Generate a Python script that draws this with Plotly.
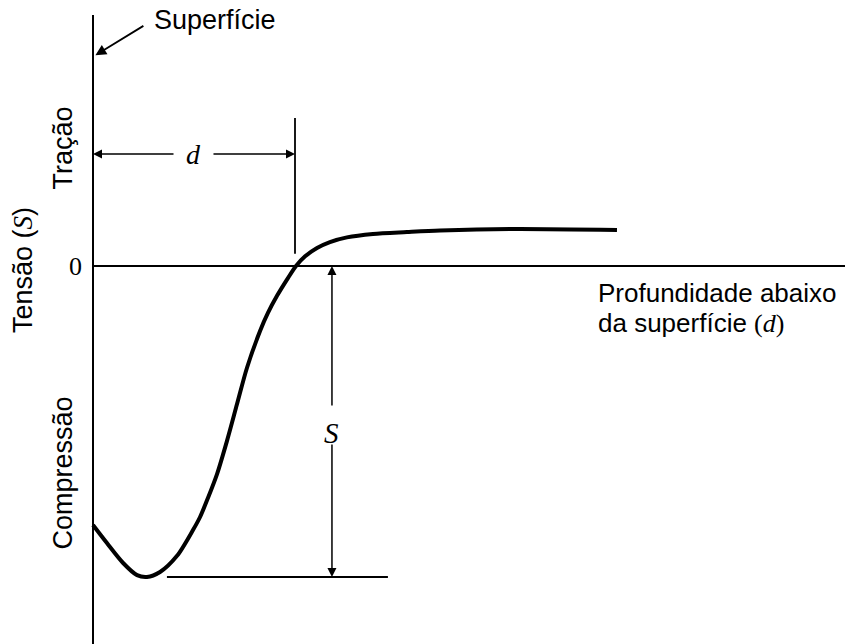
import plotly.graph_objects as go

# ---- data (depth in units of d, stress in units of |S|) ----
depth = [0.0, 0.069, 0.149, 0.218, 0.267, 0.332, 0.416, 0.495, 0.530, 0.569, 0.614, 0.663,
         0.713, 0.762, 0.827, 0.866, 0.911, 0.965, 1.005, 1.050, 1.109, 1.173, 1.257,
         1.386, 1.554, 1.718, 2.079, 2.594]
stress = [-0.833, -0.891, -0.955, -0.994, -1.0, -0.984, -0.932, -0.849, -0.807, -0.746, -0.669, -0.563,
          -0.444, -0.328, -0.209, -0.151, -0.096, -0.039, 0.0, 0.031, 0.058, 0.077, 0.092,
          0.103, 0.109, 0.114, 0.119, 0.116]

d_value = 1.0          # depth where stress crosses zero
s_min = -1.0           # peak compressive stress
s_arrow_depth = 1.183  # where the S dimension is drawn
d_arrow_stress = 0.36  # where the d dimension is drawn

x_range = [-0.4604, 3.7228]
y_range = [-1.2154, 0.8553]

SANS = "Liberation Sans, Arial, sans-serif"
SERIF = "Liberation Serif, Times New Roman, serif"
FS = 27

fig = go.Figure()
fig.add_trace(go.Scatter(x=depth, y=stress, mode="lines",
                         line=dict(color="black", width=4, shape="spline", smoothing=0.8),
                         hoverinfo="skip", showlegend=False))

shapes = [
    dict(type="line", x0=0, x1=0, y0=0.807, y1=y_range[0], line=dict(color="black", width=2)),
    dict(type="line", x0=0, x1=x_range[1], y0=0, y1=0, line=dict(color="black", width=2)),
    dict(type="line", x0=d_value, x1=d_value, y0=0.476, y1=0.039, line=dict(color="black", width=1.8)),
    dict(type="line", x0=0.366, x1=1.460, y0=s_min, y1=s_min, line=dict(color="black", width=2)),
]

ann = []
def arrow(xh, yh, xt, yt, w=1.5):
    ann.append(dict(x=xh, y=yh, ax=xt, ay=yt, xref="x", yref="y", axref="x", ayref="y",
                    text="", showarrow=True, arrowhead=2, arrowsize=1.2, arrowwidth=w,
                    arrowcolor="black"))

arrow(0.012, 0.678, 0.257, 0.775, 1.8)
arrow(0.0, d_arrow_stress, 0.406, d_arrow_stress)
arrow(d_value, d_arrow_stress, 0.589, d_arrow_stress)
arrow(s_arrow_depth, 0.0, s_arrow_depth, -0.453)
arrow(s_arrow_depth, s_min, s_arrow_depth, -0.569)

def txt(x, y, t, font, size, xanchor="center", yanchor="middle", angle=0):
    ann.append(dict(x=x, y=y, xref="x", yref="y", text=t, showarrow=False,
                    xanchor=xanchor, yanchor=yanchor, textangle=angle,
                    font=dict(family=font, size=size, color="black")))

txt(0.292, 0.790, "Superfície", SANS, FS, xanchor="left")
txt(-0.150, 0.380, "Tração", SANS, FS, angle=-90)
txt(-0.347, -0.013, "Tensão (<i><span style='font-family:Liberation Serif'>S</span></i>)", SANS, FS, angle=-90)
txt(-0.150, -0.665, "Compressão", SANS, FS, angle=-90)
txt(-0.089, 0.0, "0", SERIF, 26)
txt(0.497, d_arrow_stress, "<i>d</i>", SERIF, 28)
txt(s_arrow_depth, -0.537, "<i>S</i>", SERIF, 29)
txt(2.49, -0.087, "Profundidade abaixo", SANS, 26, xanchor="left")
txt(2.49, -0.183, "da superfície <span style='font-family:Liberation Serif'>(<i>d</i>)</span>", SANS, 26, xanchor="left")

fig.update_layout(
    width=845, height=644, margin=dict(l=0, r=0, t=0, b=0),
    paper_bgcolor="white", plot_bgcolor="white",
    xaxis=dict(range=x_range, visible=False, fixedrange=True),
    yaxis=dict(range=y_range, visible=False, fixedrange=True),
    shapes=shapes, annotations=ann, showlegend=False,
)
fig.write_html("out.html", config={"displayModeBar": False},
               post_script="document.body.style.margin='0';document.body.style.overflow='hidden';")
